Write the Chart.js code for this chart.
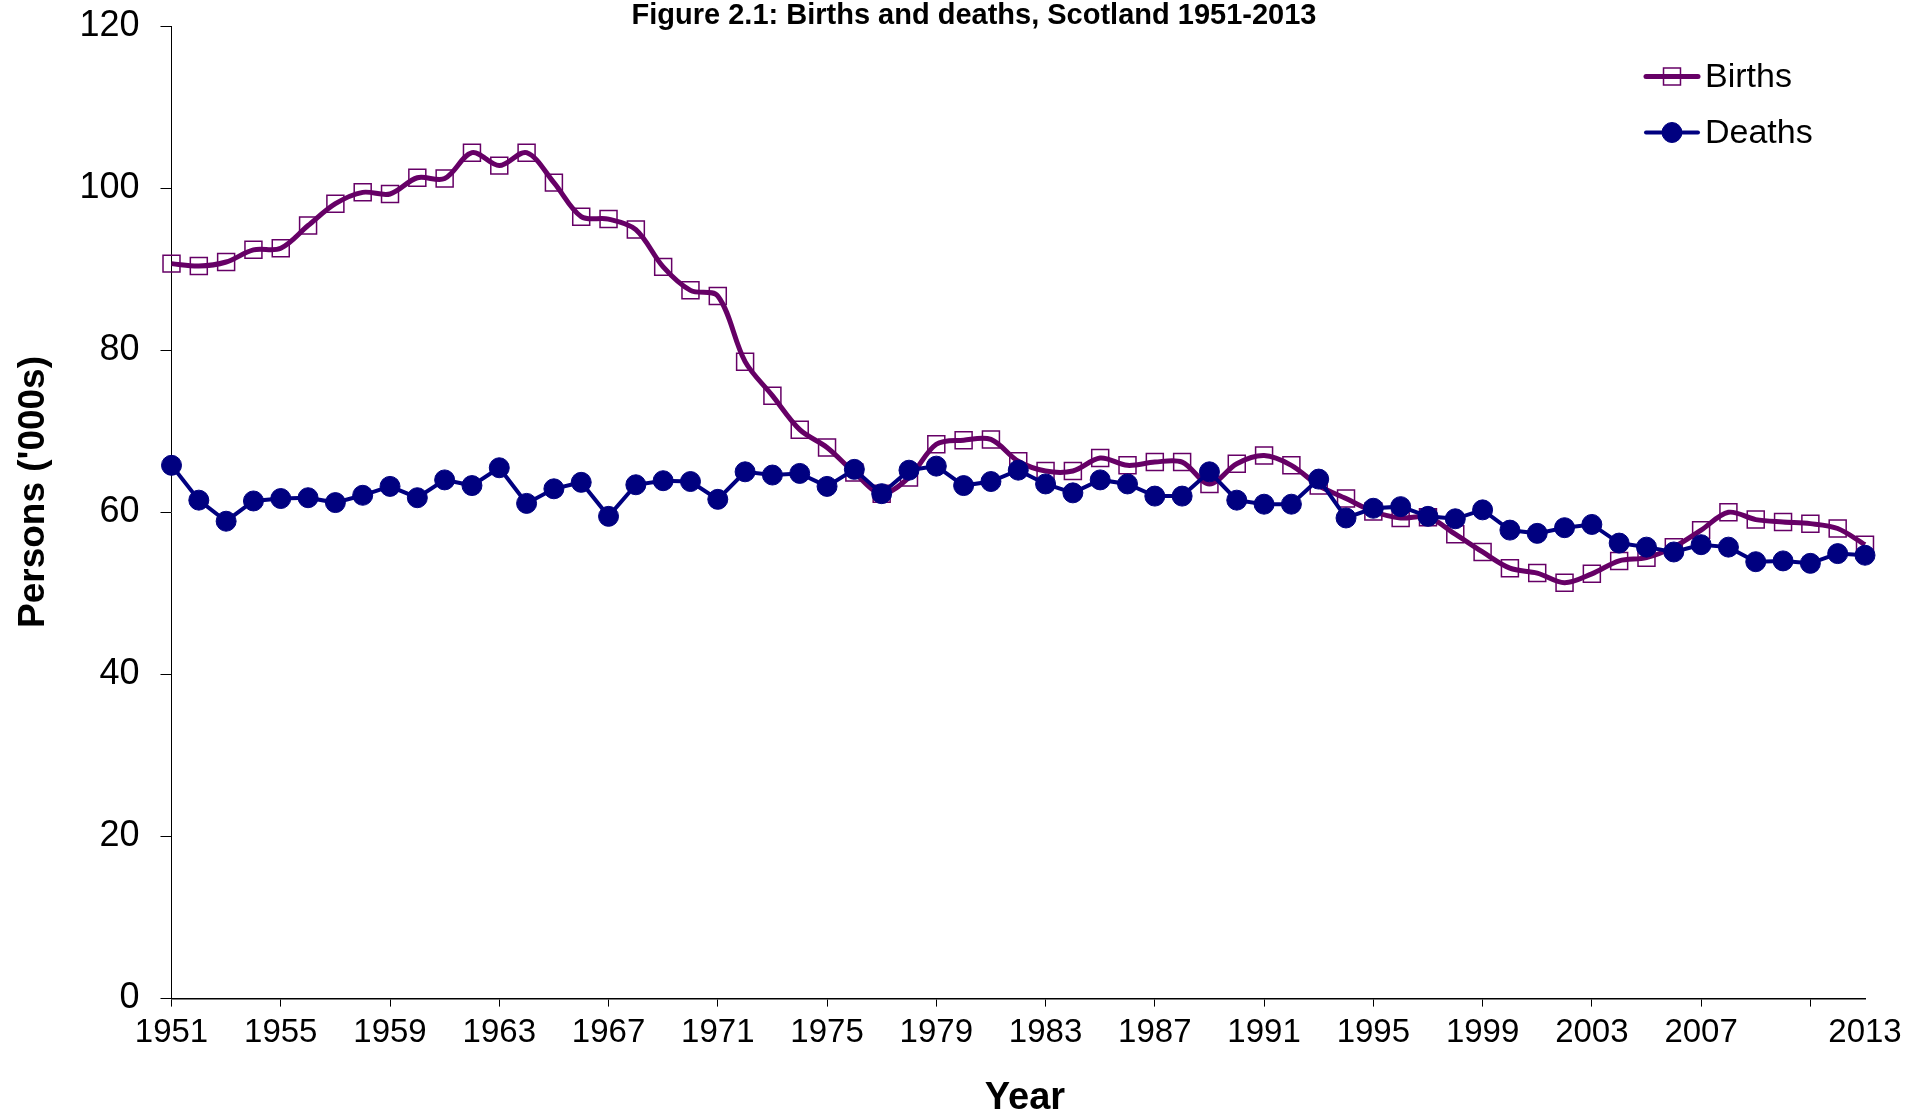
<!DOCTYPE html>
<html>
<head>
<meta charset="utf-8">
<script src="https://cdn.jsdelivr.net/npm/chart.js@4/dist/chart.umd.min.js"></script>
<style>
html,body{margin:0;padding:0;background:#fff;}
#wrap{width:1909px;height:1117px;}
</style>
</head>
<body>
<div id="wrap"><canvas id="c" width="1909" height="1117"></canvas></div>
<script>
const years = [1951,1952,1953,1954,1955,1956,1957,1958,1959,1960,
               1961,1962,1963,1964,1965,1966,1967,1968,1969,1970,
               1971,1972,1973,1974,1975,1976,1977,1978,1979,1980,
               1981,1982,1983,1984,1985,1986,1987,1988,1989,1990,
               1991,1992,1993,1994,1995,1996,1997,1998,1999,2000,
               2001,2002,2003,2004,2005,2006,2007,2008,2009,2010,
               2011,2012,2013];
const births = [90.7,90.4,90.9,92.4,92.6,95.4,98.1,99.5,99.3,101.3,
                101.2,104.4,102.8,104.4,100.7,96.5,96.2,94.9,90.3,87.4,
                86.7,78.6,74.4,70.2,68.0,64.9,62.3,64.3,68.4,68.9,
                69.0,66.3,65.1,65.1,66.7,65.8,66.2,66.2,63.5,66.0,
                67.0,65.8,63.3,61.7,60.1,59.3,59.4,57.3,55.1,53.1,
                52.5,51.3,52.4,54.0,54.4,55.7,57.8,60.0,59.1,58.8,
                58.6,58.0,56.0];
const deaths = [65.8,61.5,58.9,61.4,61.7,61.8,61.2,62.1,63.2,61.8,
                64.0,63.3,65.5,61.1,62.9,63.7,59.5,63.4,63.9,63.8,
                61.6,65.0,64.6,64.8,63.2,65.3,62.3,65.2,65.7,63.3,
                63.8,65.2,63.5,62.4,64.0,63.5,62.0,62.0,65.0,61.5,
                61.0,61.0,64.1,59.3,60.5,60.7,59.5,59.2,60.3,57.8,
                57.4,58.1,58.5,56.2,55.7,55.1,56.0,55.7,53.9,54.0,
                53.7,54.9,54.7];
const xTickYears = [1951,1955,1959,1963,1967,1971,1975,1979,1983,1987,1991,1995,1999,2003,2007,2011,2013];
const xHiddenLabels = [2011];
const yTicks = [0,20,40,60,80,100,120];
const seriesNames = ['Births','Deaths'];
const chartTitle = 'Figure 2.1: Births and deaths, Scotland 1951-2013';
const xTitle = 'Year';
const yTitle = "Persons ('000s)";

const FONT = '"Liberation Sans", Arial, Helvetica, sans-serif';
const BIRTH_COLOR = '#660066';
const DEATH_COLOR = '#000080';

const textPlugin = {
  id: 'texts',
  afterDraw(chart) {
    const ctx = chart.ctx;
    ctx.save();
    ctx.fillStyle = '#000';
    // chart title
    ctx.font = 'bold 29px ' + FONT;
    ctx.textAlign = 'center';
    ctx.textBaseline = 'alphabetic';
    ctx.fillText(chartTitle, 974, 24);
    // x axis title
    ctx.font = 'bold 38px ' + FONT;
    ctx.fillText(xTitle, 1025, 1109);
    // y axis title
    ctx.save();
    ctx.translate(34, 492);
    ctx.rotate(-Math.PI / 2);
    ctx.font = 'bold 37px ' + FONT;
    ctx.textBaseline = 'middle';
    ctx.fillText(yTitle, 0, 0);
    ctx.restore();
    // legend
    const x0 = 1646, x1 = 1698, tx = 1705;
    const ys = [76.5, 132.5];
    chart.data.datasets.forEach((ds, i) => {
      const y = ys[i];
      ctx.save();
      ctx.strokeStyle = ds.borderColor;
      ctx.lineWidth = ds.borderWidth;
      ctx.lineCap = 'round';
      ctx.beginPath();
      ctx.moveTo(x0, y);
      ctx.lineTo(x1, y);
      ctx.stroke();
      ctx.fillStyle = ds.pointBackgroundColor;
      ctx.strokeStyle = ds.pointBorderColor;
      ctx.lineWidth = ds.pointBorderWidth;
      Chart.helpers.drawPoint(ctx, {pointStyle: ds.pointStyle, rotation: 0, radius: ds.pointRadius, borderWidth: ds.pointBorderWidth}, (x0 + x1) / 2, y);
      ctx.fillStyle = '#000';
      ctx.font = '34px ' + FONT;
      ctx.textAlign = 'left';
      ctx.textBaseline = 'middle';
      ctx.fillText(ds.label, tx, y + 1);
      ctx.restore();
    });
    ctx.restore();
  }
};

new Chart(document.getElementById('c'), {
  type: 'line',
  data: {
    datasets: [
      {
        label: seriesNames[0],
        data: years.map((yr, i) => ({x: yr, y: births[i]})),
        borderColor: BIRTH_COLOR,
        borderWidth: 5,
        tension: 0.33,
        pointStyle: 'rect',
        pointRadius: 12,
        pointBorderWidth: 1.5,
        pointBorderColor: BIRTH_COLOR,
        pointBackgroundColor: 'rgba(0,0,0,0)',
        clip: false,
        order: 2
      },
      {
        label: seriesNames[1],
        data: years.map((yr, i) => ({x: yr, y: deaths[i]})),
        borderColor: DEATH_COLOR,
        borderWidth: 4,
        tension: 0,
        pointStyle: 'circle',
        pointRadius: 10,
        pointBorderWidth: 1,
        pointBorderColor: DEATH_COLOR,
        pointBackgroundColor: DEATH_COLOR,
        clip: false,
        order: 1
      }
    ]
  },
  options: {
    responsive: false,
    animation: false,
    layout: {padding: {top: 26.3, right: 44, bottom: 0, left: 0}},
    plugins: {
      legend: {display: false},
      tooltip: {enabled: false},
      title: {display: false}
    },
    scales: {
      x: {
        type: 'linear',
        min: 1951,
        max: 2013,
        afterFit(s) { s.height = 118.7; s.paddingLeft = 0; s.paddingRight = 0; },
        afterBuildTicks(s) { s.ticks = xTickYears.map(v => ({value: v})); },
        ticks: {
          autoSkip: false,
          maxRotation: 0,
          color: '#000',
          font: {family: FONT, size: 33},
          padding: 7,
          callback: v => xHiddenLabels.includes(v) ? '' : String(v)
        },
        grid: {
          drawOnChartArea: false,
          drawTicks: true,
          tickLength: 8.3,
          tickWidth: 1,
          tickColor: c => (c.tick && c.tick.value === 2013) ? 'rgba(0,0,0,0)' : '#000'
        },
        border: {display: true, color: '#000', width: 1.5},
        title: {display: false}
      },
      y: {
        min: 0,
        max: 120,
        afterFit(s) { s.width = 171.5; s.paddingTop = 0; s.paddingBottom = 0; },
        afterBuildTicks(s) { s.ticks = yTicks.map(v => ({value: v})); },
        ticks: {
          color: '#000',
          font: {family: FONT, size: 36},
          padding: 21,
          callback: v => String(v)
        },
        grid: {
          drawOnChartArea: false,
          drawTicks: true,
          tickLength: 11,
          tickWidth: 1,
          tickColor: '#000'
        },
        border: {display: true, color: '#000', width: 1},
        title: {display: false}
      }
    }
  },
  plugins: [textPlugin]
});
</script>
</body>
</html>
